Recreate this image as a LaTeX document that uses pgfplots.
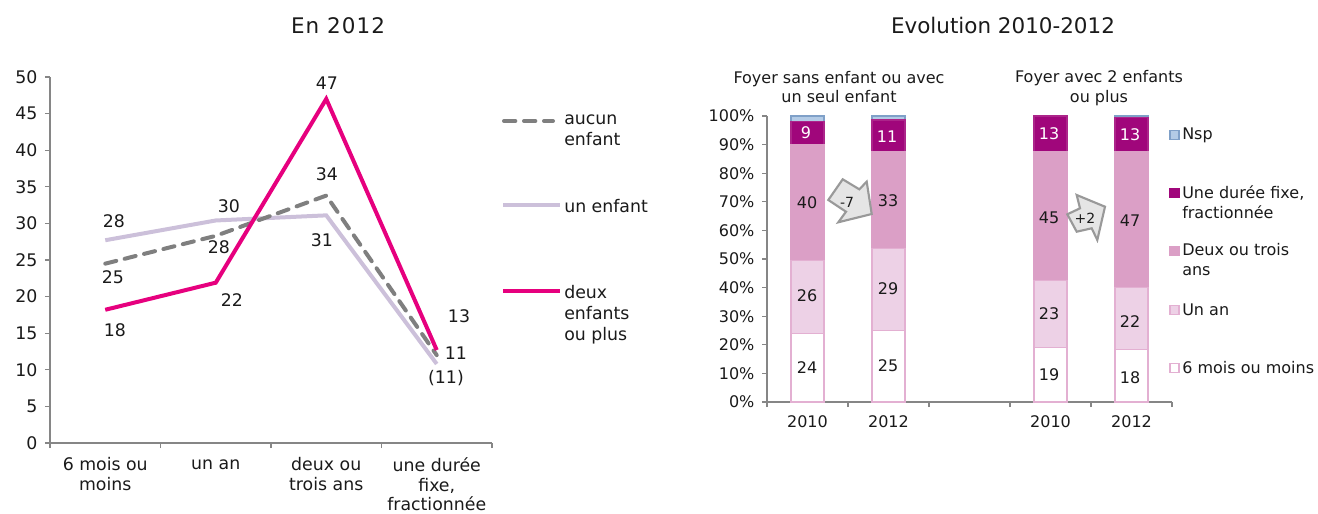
\documentclass[border=0pt]{standalone}
\usepackage{pgfplots}
\pgfplotsset{compat=1.18}
\usepackage{fontspec}
\setmainfont{DejaVu Sans}
\definecolor{axgray}{HTML}{868686}
\definecolor{txt}{HTML}{1A1A1A}
\definecolor{dashgray}{HTML}{7F7F7F}
\definecolor{lav}{HTML}{CCC0DA}
\definecolor{mag}{HTML}{E6007E}
\definecolor{nsp}{HTML}{B3CBE6}
\definecolor{nspb}{HTML}{7FA0C8}
\definecolor{fixe}{HTML}{A0067B}
\definecolor{deux}{HTML}{DB9FC6}
\definecolor{unan}{HTML}{EDD1E6}
\definecolor{pinkb}{HTML}{E3B0D2}
\newcommand{\fs}{\fontsize{12}{15.4}\selectfont}
\newcommand{\fl}{\fontsize{13}{15.7}\selectfont}
\newcommand{\flt}{\fontsize{13}{14.9}\selectfont}
\newcommand{\st}{\rule{0pt}{9.5pt}}
\begin{document}
\begin{tikzpicture}[x=0.75pt,y=-0.75pt,
  lab/.style={font=\fs,text=txt,inner sep=0pt,anchor=center,align=center},
  labl/.style={font=\fl,text=txt,inner sep=0pt,anchor=center,align=center},
  arrowb/.style={fill=black!10,draw=black!40,line width=1.6pt,line join=miter}]
\path (0,0) rectangle (1318,514);
% ---------- left axis: origin at px (50,443), size 442 x 366
\begin{axis}[at={(37.5pt,-332.25pt)},anchor=south west,scale only axis,
  width=331.5pt,height=274.5pt,
  xmin=-0.5,xmax=3.5,ymin=0,ymax=50,
  axis x line*=bottom,axis y line*=left,
  axis line style={draw=axgray,line width=1.1pt,-},
  tick style={draw=axgray,line width=0.9pt},
  tick align=outside,major tick length=3.75pt,
  ytick={0,5,...,50},
  xtick={-0.5,0.5,1.5,2.5,3.5},xticklabels={},
  extra x ticks={0,1,2,3},
  extra x tick style={tick style={draw=none},major tick length=0pt},
  extra x tick labels={{\st 6 mois ou\\moins},{\st un an},{\st deux ou\\trois ans},{\st une durée\\fixe,\\fractionnée}},
  xticklabel style={font=\flt,text=txt,align=center,anchor=north,inner sep=0pt,yshift=-10.5pt},
  yticklabel style={font=\fl,text=txt,inner sep=0pt,xshift=-5.5pt},
  /pgf/number format/assume math mode=true,
  clip=false]
\addplot[lav,line width=3pt] coordinates {(0,27.7)(1,30.4)(2,31.1)(3,10.8)};
\addplot[dashgray,line width=3pt,line cap=round,dash pattern=on 8.5pt off 6.5pt] coordinates {(0,24.5)(1,28.3)(2,33.8)(3,12)};
\addplot[mag,line width=3pt] coordinates {(0,18.2)(1,21.9)(2,47)(3,12.7)};
\end{axis}
% ---------- right axis: origin at px (767,402), size 405 x 286
\begin{axis}[at={(575.25pt,-301.5pt)},anchor=south west,scale only axis,
  width=303.75pt,height=214.5pt,
  xmin=-0.5,xmax=4.5,ymin=0,ymax=100,
  ybar stacked,bar width=24.75pt,
  axis x line*=bottom,axis y line*=left,
  axis line style={draw=axgray,line width=1.1pt,-},
  tick style={draw=axgray,line width=0.9pt},
  tick align=outside,major tick length=3.75pt,
  ytick={0,10,...,100},
  yticklabel={\pgfmathprintnumber{\tick}\%},
  xtick={-0.5,0.5,1.5,2.5,3.5,4.5},xticklabels={},
  extra x ticks={0,1,3,4},
  extra x tick style={tick style={draw=none},major tick length=0pt},
  extra x tick labels={2010,2012,2010,2012},
  xticklabel style={font=\fs,text=txt,anchor=north,inner sep=0pt,yshift=-10pt},
  yticklabel style={font=\fs,text=txt,inner sep=0pt,xshift=-5.5pt},
  /pgf/number format/assume math mode=true,
  clip=false]
\addplot[fill=white,draw=pinkb,line width=0.9pt] coordinates {(0,24)(1,25)(3,19)(4,18.3)};
\addplot[fill=unan,draw=pinkb,line width=0.9pt] coordinates {(0,25.5)(1,28.7)(3,23.5)(4,21.7)};
\addplot[fill=deux,draw=deux,line width=0.9pt] coordinates {(0,40.5)(1,33.9)(3,45)(4,47.5)};
\addplot[fill=fixe,draw=fixe!80!deux,line width=0.9pt] coordinates {(0,8.2)(1,11)(3,12.5)(4,12)};
\addplot[fill=nsp,draw=nspb,line width=0.9pt] coordinates {(0,1.8)(1,1.4)(3,0)(4,0.5)};
\end{axis}
% ---------- titles
\node[lab,font=\fontsize{16.1}{19}\selectfont\addfontfeature{LetterSpace=5}] at (338,26) {En 2012};
\node[lab,font=\fontsize{16.1}{19}\selectfont] at (1003,25) {Evolution 2010-2012};
\node[lab,font=\fontsize{12}{14.5}\selectfont] at (839,87) {Foyer sans enfant ou avec\\un seul enfant};
\node[lab,font=\fontsize{12}{14.5}\selectfont] at (1099,88) {Foyer avec 2 enfants\\ou plus};
% ---------- left value labels
\foreach \t/\px/\py in {28/114/221,25/113/277,18/115/330,30/229/206,28/219/247,22/232/300,47/327/83,34/327/174,31/322/240,13/459/316,11/456/353,(11)/446/378}
  \node[labl] at (\px,\py) {\t};
% ---------- left legend
\draw[dashgray,line width=3pt,line cap=round,dash pattern=on 8.5pt off 6.5pt] (504,121)--(553,121);
\draw[lav,line width=3pt] (503,205)--(560,205);
\draw[mag,line width=3pt] (503,291)--(560,291);
\node[labl,align=left,anchor=north west] at (564,115) {aucun\\enfant};
\node[labl,align=left,anchor=west] at (564,206) {un enfant};
\node[labl,align=left,anchor=north west] at (564,285) {deux\\enfants\\ou plus};
% ---------- arrows
\draw[arrowb] (828.3,200)--(842.7,179.3)--(859.3,189.3)--(866.7,181.7)--(871.7,214)--(838.3,222.3)--(846,211.7)--cycle;
\draw[arrowb] (1076.7,195)--(1105,206.7)--(1097.3,240)--(1091.7,228.3)--(1076.7,231.7)--(1067.3,214.3)--(1080,208.3)--cycle;
\node[lab,font=\fontsize{10.5}{12}\selectfont] at (847,202) {-7};
\node[lab,font=\fontsize{10.5}{12}\selectfont] at (1085,218) {+2};
% ---------- bar labels
\foreach \t/\px/\py in {24/807/368,26/807/296,40/807/203,25/888/366,29/888/289,33/888/201,19/1049/375,23/1049/314,45/1049/218,18/1130/378,22/1130/322,47/1130/221}
  \node[lab] at (\px,\py) {\t};
\foreach \t/\px/\py in {9/806/133,11/887/137,13/1049/134,13/1130/135}
  \node[lab,text=white] at (\px,\py) {\t};
% ---------- right legend
\foreach \c/\d/\py in {nsp/nspb/135,fixe/fixe/193,deux/deux/251,unan/pinkb/310,white/pinkb/368}
  \draw[fill=\c,draw=\d,line width=0.8pt] (1170,\py-4.5) rectangle (1179,\py+4.5);
\node[lab,align=left,anchor=west] at (1182,135) {Nsp};
\node[lab,align=left,anchor=north west] at (1182,185) {Une durée fixe,\\fractionnée};
\node[lab,align=left,anchor=north west] at (1182,243) {Deux ou trois\\ans};
\node[lab,align=left,anchor=west] at (1182,310) {Un an};
\node[lab,align=left,anchor=west] at (1182,368) {6 mois ou moins};
\end{tikzpicture}
\end{document}
